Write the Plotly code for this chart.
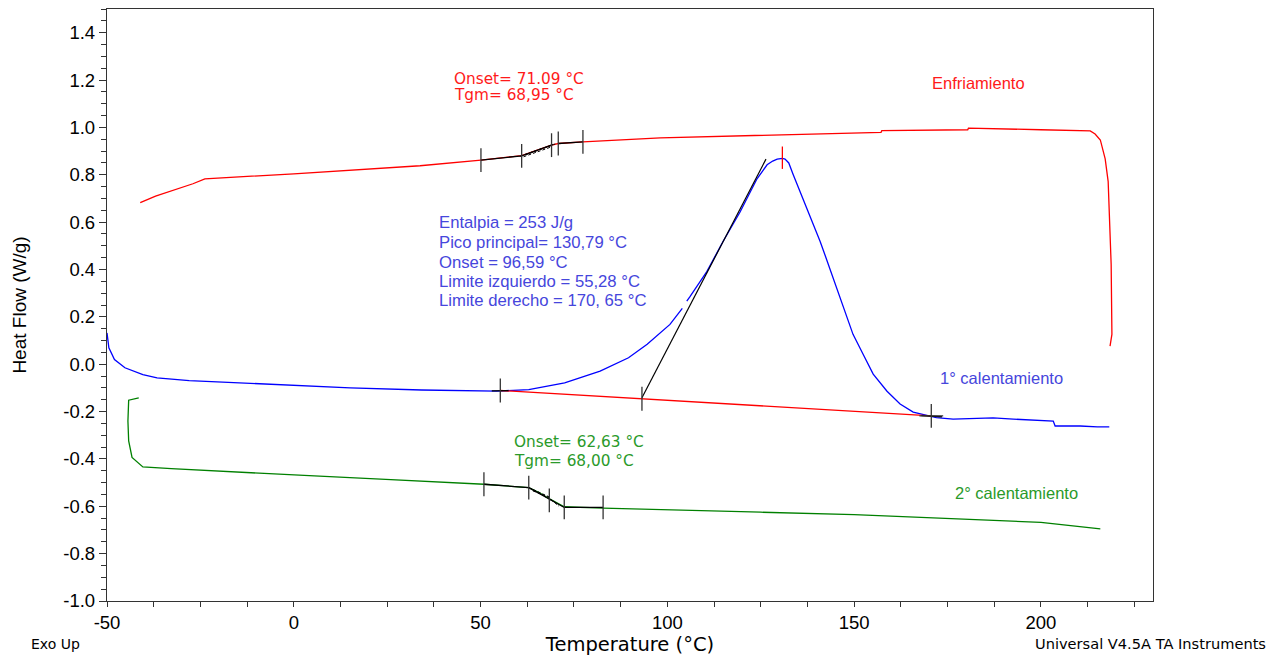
import plotly.graph_objects as go

# ---------------- data ----------------
# Cooling (Enfriamiento) - red
red_T = [218.5, 219.0, 218.8, 218.5, 218.0, 217.2, 215.9, 214.5, 213.2,
         200, 190, 180.6, 180.4, 157.4, 157.2, 150, 125, 98.1,
         77.4, 70.8, 69.0, 65.0, 61.0, 50.1, 33.8, 0.0,
         -23.8, -27, -32, -37, -41.1]
red_Q = [0.076, 0.126, 0.421, 0.589, 0.771, 0.867, 0.947, 0.972, 0.985,
         0.990, 0.995, 0.997, 0.990, 0.986, 0.979, 0.976, 0.967, 0.956,
         0.939, 0.932, 0.925, 0.902, 0.881, 0.862, 0.838, 0.804,
         0.783, 0.762, 0.737, 0.710, 0.682]

# 1st heating - blue
blue_T = [-50.0, -49.5, -48.0, -45.2, -40.4, -36.6, -28.0, -13.6, -4.1, 15.1,
          34.2, 54.3, 62.9, 72.5, 82.0, 89.6, 94.6, 100.7, 104.0, None,
          105.2, 106.1, 110.6, 114.9, 119.5, 124.0, 126.7, 128.2, 129.4, 130.8,
          131.5, 132.5, 133.7, 137.4, 140.9, 142.2, 144.4, 147.1, 149.7, 152.4,
          155.1, 158.8, 162.3, 165.8, 169.5, 172.0, 176.5, 187.2, 192.6, 199.0,
          203.3, 203.8, 210.5, 215.1, 218.3]
blue_Q = [0.132, 0.069, 0.020, -0.015, -0.044, -0.058, -0.069, -0.079, -0.086, -0.100,
          -0.109, -0.114, -0.107, -0.079, -0.029, 0.027, 0.084, 0.168, 0.236, None,
          0.266, 0.286, 0.392, 0.518, 0.644, 0.783, 0.842, 0.858, 0.866, 0.869,
          0.866, 0.850, 0.800, 0.657, 0.518, 0.461, 0.362, 0.236, 0.126, 0.042,
          -0.042, -0.114, -0.168, -0.202, -0.215, -0.226, -0.232, -0.227, -0.232, -0.236,
          -0.240, -0.261, -0.261, -0.265, -0.265]

# 2nd heating - green
green_T = [-41.5, -44.2, -44.4, -44.2, -43.3, -40.4, -32.8, -13.6, 5.5, 24.6,
           43.7, 50.9, 62.9, 65.7, 68.6, 72.4, 82.8, 98.1, 125, 150,
           175, 200, 215.9]
green_Q = [-0.142, -0.152, -0.240, -0.324, -0.394, -0.434, -0.441, -0.458, -0.472, -0.486,
           -0.500, -0.507, -0.521, -0.542, -0.570, -0.602, -0.608, -0.615, -0.625, -0.635,
           -0.650, -0.668, -0.695]

# Peak integration baseline (red) and limits
base_T = [55.28, 170.65]
base_Q = [-0.111, -0.218]
peak_T = [130.79]
peak_Q = [0.872]
tangent_T = [93.2, 126.4]
tangent_Q = [-0.142, 0.866]
limit_T = [55.28, 93.2]
limit_Q = [-0.111, -0.146]
right_limit_T = [170.65]
right_limit_Q = [-0.218]

# Glass transition analysis marks
red_tg_T = [50.1, 61.0, 69.0, 70.8, 77.4]
red_tg_Q = [0.862, 0.880, 0.925, 0.932, 0.939]
green_tg_T = [50.9, 62.9, 68.4, 72.4, 82.8]
green_tg_Q = [-0.507, -0.521, -0.575, -0.605, -0.605]

# Black analysis segments (solid) and construction lines (dashed)
black_T = [50.1, 61.0, 69.5, None, 70.8, 77.4, None,
           50.9, 62.9, 72.4, 82.8, None,
           53.0, 57.5, None, 168.0, 173.5]
black_Q = [0.862, 0.880, 0.928, None, 0.932, 0.939, None,
           -0.507, -0.521, -0.605, -0.605, None,
           -0.113, -0.112, None, -0.217, -0.222]
dash_T = [61.5, 69.0, None, 62.0, 70.0, None, 60.5, 68.5, None,
          62.9, 69.0, None, 63.5, 70.5, None, 64.0, 68.0, 71.0]
dash_Q = [0.876, 0.918, None, 0.884, 0.930, None, 0.878, 0.922, None,
          -0.521, -0.565, None, -0.525, -0.588, None, -0.535, -0.560, -0.600]

# Tick labels
x_tickvals = [-50, 0, 50, 100, 150, 200]
x_ticktext = ["-50", "0", "50", "100", "150", "200"]
y_tickvals = [-1.0, -0.8, -0.6, -0.4, -0.2, 0.0, 0.2, 0.4, 0.6, 0.8, 1.0, 1.2, 1.4]
y_ticktext = ["-1.0", "-0.8", "-0.6", "-0.4", "-0.2", "0.0", "0.2", "0.4", "0.6",
              "0.8", "1.0", "1.2", "1.4"]

# Text
red_text = ["Onset= 71.09 °C", "Tgm= 68,95 °C"]
blue_text = ["Entalpia = 253 J/g", "Pico principal= 130,79 °C", "Onset = 96,59 °C",
             "Limite izquierdo = 55,28 °C", "Limite derecho = 170, 65 °C"]
green_text = ["Onset= 62,63 °C", "Tgm= 68,00 °C"]

RED = "#ff0000"
BLUE = "#0000ff"
GREEN = "#008000"

fig = go.Figure()

line_traces = [
    (red_T, red_Q, RED),
    (blue_T, blue_Q, BLUE),
    (green_T, green_Q, GREEN),
    (base_T, base_Q, RED),
]
for xs, ys, c in line_traces:
    fig.add_trace(go.Scatter(x=xs, y=ys, mode="lines", line=dict(color=c, width=1.3),
                             connectgaps=False, hoverinfo="skip"))

fig.add_trace(go.Scatter(x=tangent_T, y=tangent_Q, mode="lines",
                         line=dict(color="black", width=1.2), hoverinfo="skip"))
fig.add_trace(go.Scatter(x=black_T, y=black_Q, mode="lines",
                         line=dict(color="black", width=1.3), hoverinfo="skip"))
fig.add_trace(go.Scatter(x=dash_T, y=dash_Q, mode="lines",
                         line=dict(color="black", width=1, dash="3px,2px"), hoverinfo="skip"))

tick_marker = dict(symbol="line-ns", size=17, line=dict(color="#333333", width=1.3))
for xs, ys in [(red_tg_T, red_tg_Q), (green_tg_T, green_tg_Q), (limit_T, limit_Q)]:
    fig.add_trace(go.Scatter(x=xs, y=ys, mode="markers", marker=tick_marker, hoverinfo="skip"))
fig.add_trace(go.Scatter(x=right_limit_T, y=right_limit_Q, mode="markers",
                         marker=dict(symbol="cross-thin", size=17,
                                     line=dict(color="#333333", width=1.3)), hoverinfo="skip"))
fig.add_trace(go.Scatter(x=peak_T, y=peak_Q, mode="markers",
                         marker=dict(symbol="line-ns", size=16, line=dict(color=RED, width=1.3)),
                         hoverinfo="skip"))

annos = []
TXT_RED = "#ff1a1a"
TXT_BLUE = "#4646dc"
TXT_GREEN = "#2a9a2a"
for i, t in enumerate(red_text):
    annos.append(dict(x=42.4, y=[1.204, 1.137][i], text=t, xanchor="left", yanchor="middle",
                      font=dict(family="DejaVu Sans", size=15.3, color=TXT_RED)))
annos.append(dict(x=183.2, y=1.187, text="Enfriamiento", xanchor="center", yanchor="middle",
                  font=dict(family="Liberation Sans", size=16.5, color=TXT_RED)))
blue_y = [0.598, 0.514, 0.429, 0.349, 0.269]
for t, yy in zip(blue_text, blue_y):
    annos.append(dict(x=38.4, y=yy, text=t, xanchor="left", yanchor="middle",
                      font=dict(family="Liberation Sans", size=16.7, color=TXT_BLUE)))
annos.append(dict(x=189.4, y=-0.059, text="1° calentamiento", xanchor="center", yanchor="middle",
                  font=dict(family="Liberation Sans", size=16.5, color=TXT_BLUE)))
for i, t in enumerate(green_text):
    annos.append(dict(x=58.4, y=[-0.328, -0.408][i], text=t, xanchor="left", yanchor="middle",
                      font=dict(family="DejaVu Sans", size=15.3, color=TXT_GREEN)))
annos.append(dict(x=193.4, y=-0.543, text="2° calentamiento", xanchor="center", yanchor="middle",
                  font=dict(family="Liberation Sans", size=16.5, color=TXT_GREEN)))
annos.append(dict(xref="paper", yref="paper", x=-0.075, y=-0.072, text="Exo Up",
                  xanchor="left", yanchor="middle", showarrow=False,
                  font=dict(family="DejaVu Sans", size=14, color="black")))
annos.append(dict(xref="paper", yref="paper", x=1.1095, y=-0.072, text="Universal V4.5A TA Instruments",
                  xanchor="right", yanchor="middle", showarrow=False,
                  font=dict(family="DejaVu Sans", size=14.6, color="black")))
for a in annos:
    a.setdefault("showarrow", False)

# page body has an 8px margin: figure spans x 8..1276, y 8..656
fig.update_layout(
    width=1268, height=648,
    margin=dict(l=99, r=123, t=1, b=55, autoexpand=False),
    paper_bgcolor="white", plot_bgcolor="white",
    showlegend=False,
    annotations=annos,
    font=dict(family="Liberation Sans", color="black"),
)
fig.update_xaxes(
    range=[-50, 230], tickvals=x_tickvals, ticktext=x_ticktext,
    showline=True, linecolor="#333333", linewidth=1.3, mirror=True,
    ticks="outside", ticklen=5, tickcolor="#333333", tickwidth=1.2,
    minor=dict(dtick=12.5, tick0=-50, ticks="outside", ticklen=5, tickcolor="#333333", tickwidth=1.1),
    showgrid=False, zeroline=False,
    tickfont=dict(family="Liberation Sans", size=18.5, color="black"),
    title=dict(text="Temperature (°C)", font=dict(family="DejaVu Sans", size=19.5, color="black"),
               standoff=6),
)
fig.update_yaxes(
    range=[-1.0, 1.5], tickvals=y_tickvals, ticktext=y_ticktext,
    showline=True, linecolor="#333333", linewidth=1.3, mirror=True,
    ticks="outside", ticklen=7, tickcolor="#333333", tickwidth=1.2,
    minor=dict(dtick=0.05, tick0=-1.0, ticks="outside", ticklen=5, tickcolor="#333333", tickwidth=1.1),
    showgrid=False, zeroline=False,
    tickfont=dict(family="Liberation Sans", size=18.5, color="black"),
    title=dict(text="Heat Flow (W/g)", font=dict(family="Liberation Sans", size=19, color="black"),
               standoff=31),
)

fig.write_html("out.html")
